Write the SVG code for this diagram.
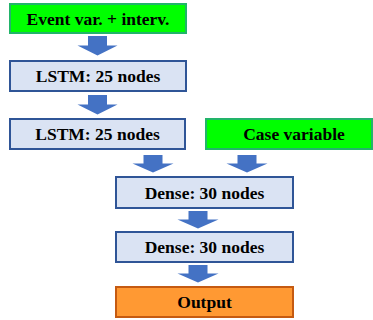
<svg xmlns="http://www.w3.org/2000/svg" width="373" height="320" viewBox="0 0 373 320">
<style>
.box{stroke-width:2}
.blue{fill:#DAE3F3;stroke:#2F5597}
.green{fill:#00FF00;stroke:#22B46A}
.orange{fill:#FF9933;stroke:#C55A11}
.t{font-family:"Liberation Serif","Times New Roman",serif;font-weight:bold;font-size:17.5px;fill:#000;text-anchor:middle}
.arr{fill:#4472C4}
</style>
<defs>
<path id="arrow" d="M-9.5,0 H9.5 V8.5 H20.5 L0,17.5 L-20.5,8.5 H-9.5 Z"/>
<path id="arrowTall" d="M-9.5,0 H9.5 V9.5 H20 L0,19.5 L-20,9.5 H-9.5 Z"/>
</defs>
<rect width="373" height="320" fill="#fff"/>
<g id="connectors">
<use href="#arrowTall" class="arr" x="97.5" y="36"/>
<use href="#arrowTall" class="arr" x="97.5" y="95"/>
<use href="#arrow" class="arr" x="153" y="155"/>
<use href="#arrow" class="arr" x="247" y="155"/>
<use href="#arrow" class="arr" x="198" y="211"/>
<use href="#arrow" class="arr" x="198" y="265"/>
</g>
<g id="event">
<rect class="box green" x="10" y="4" width="176" height="29"/>
<text class="t" x="98" y="24.5">Event var. + interv.</text>
</g>
<g id="lstm1">
<rect class="box blue" x="10" y="61" width="176" height="30"/>
<text class="t" x="98" y="82">LSTM: 25 nodes</text>
</g>
<g id="lstm2">
<rect class="box blue" x="10" y="119" width="175" height="30"/>
<text class="t" x="97.5" y="140">LSTM: 25 nodes</text>
</g>
<g id="case">
<rect class="box green" x="206" y="119" width="166" height="30"/>
<text class="t" x="294" y="140">Case variable</text>
</g>
<g id="dense1">
<rect class="box blue" x="116" y="177" width="177" height="31"/>
<text class="t" x="204.5" y="198.5">Dense: 30 nodes</text>
</g>
<g id="dense2">
<rect class="box blue" x="116" y="232" width="177" height="30"/>
<text class="t" x="204.5" y="253">Dense: 30 nodes</text>
</g>
<g id="output">
<rect class="box orange" x="116" y="287" width="177" height="30"/>
<text class="t" x="204.5" y="308">Output</text>
</g>
</svg>
